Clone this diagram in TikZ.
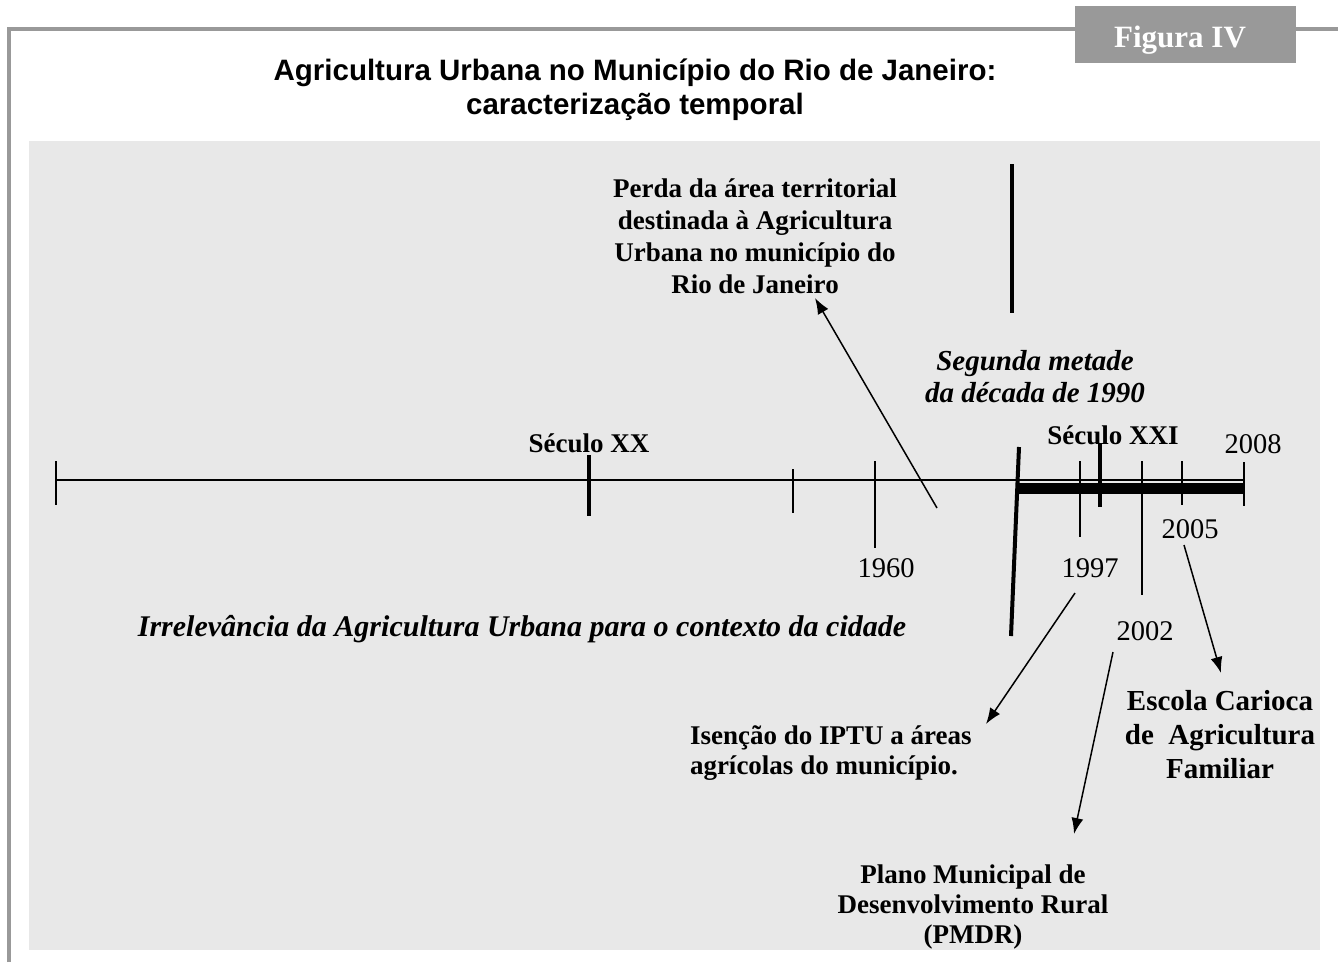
\documentclass[tikz,border=0pt]{standalone}
\usepackage{fontspec}
\setmainfont{Liberation Serif}
\newfontfamily\titlefont{Liberation Sans}
\usetikzlibrary{arrows.meta}
\definecolor{framegray}{HTML}{999999}
\definecolor{panelgray}{HTML}{E8E8E8}
\tikzset{
  txt/.style={inner sep=0pt, outer sep=0pt, align=center, font=\fontsize{27}{32}\selectfont\bfseries},
  txtit/.style={txt, font=\fontsize{29}{32}\selectfont\bfseries\itshape},
  year/.style={inner sep=0pt, outer sep=0pt, font=\fontsize{28.5}{32}\selectfont},
  thin/.style={line width=1.8pt},
  thick tick/.style={line width=3.6pt},
  ptr/.style={line width=1.5pt, -{Latex[length=16pt,width=12pt]}},
}
\begin{document}
\begin{tikzpicture}[x=1pt,y=-1pt]
\useasboundingbox (0,0) rectangle (1338,962);
\fill[white] (0,0) rectangle (1338,962);
% frame
\draw[framegray, line width=3.5pt] (9,962) -- (9,29) -- (1075,29);
\draw[framegray, line width=3.5pt] (1296,29) -- (1338,29);
\fill[framegray] (1075,6) rectangle (1296,63);
\node[inner sep=0pt, anchor=base, text=white, font=\fontsize{31}{34}\selectfont\bfseries] (fig) at (1180,47) {Figura IV};
% title
\node[inner sep=0pt, anchor=north, align=center, font=\titlefont\fontsize{29.5}{34}\selectfont\bfseries] (title) at (635,59)
  {Agricultura Urbana no Município do Rio de Janeiro:\\caracterização temporal};
% panel
\fill[panelgray] (29,141) rectangle (1320,950);

% timeline
\coordinate (t0) at (56,480);
\coordinate (t1) at (1244,480);
\draw[thin] (t0) -- (t1);
\fill[black] (1017,483) rectangle (1244,494);
\draw[thin] (56,461) -- (56,505);
\draw[thick tick] (589,455) -- (589,516);
\draw[thin] (793,469) -- (793,513);
\draw[thin] (875,461) -- (875,548);
\draw[thin] (1080,461) -- (1080,537);
\draw[thick tick] (1100,443) -- (1100,507);
\draw[thin] (1142,461) -- (1142,595);
\draw[thin] (1182,461) -- (1182,505);
\draw[thin] (1244,462) -- (1244,506);
\draw[line width=4pt] (1019,447) -- (1011,636);
\draw[line width=4pt] (1012,164) -- (1012,313);

% labels
\node[txt, anchor=base] (sxx) at (589,452) {Século XX};
\node[txt, anchor=base] (sxxi) at (1113,444) {Século XXI};
\node[year, anchor=base] (y1960) at (886,577) {1960};
\node[year, anchor=base] (y1997) at (1090,577) {1997};
\node[year, anchor=base] (y2002) at (1145,640) {2002};
\node[year, anchor=base] (y2005) at (1190,538) {2005};
\node[year, anchor=base] (y2008) at (1253,453) {2008};

\node[txt, anchor=north] (perda) at (755,179)
  {Perda da área territorial\\destinada à Agricultura\\Urbana no município do\\Rio de Janeiro};
\node[txtit, anchor=north] (segunda) at (1035,350)
  {Segunda metade\\da década de 1990};
\node[txtit, anchor=base, font=\fontsize{30}{32}\selectfont\bfseries\itshape] (irrel) at (522,636)
  {Irrelevância da Agricultura Urbana para o contexto da cidade};
\node[txt, anchor=north west, align=left, font=\fontsize{27}{30}\selectfont\bfseries] (isencao) at (690,726)
  {Isenção do IPTU a áreas\\agrícolas do município.};
\node[txt, anchor=north, font=\fontsize{29}{34}\selectfont\bfseries] (escola) at (1220,690)
  {Escola Carioca\\de\ \ Agricultura\\Familiar};
\node[txt, anchor=north, font=\fontsize{27}{30}\selectfont\bfseries] (plano) at (973,865)
  {Plano Municipal de\\Desenvolvimento Rural\\(PMDR)};

% arrows
\coordinate (aPerdaS) at (937,508);
\coordinate (aPerdaT) at (815,298);
\coordinate (a97S) at (1075,593);
\coordinate (a97T) at (986,724);
\coordinate (a02S) at (1113,652);
\coordinate (a02T) at (1074,834);
\coordinate (a05S) at (1184,545);
\coordinate (a05T) at (1221,673);
\draw[ptr] (aPerdaS) -- (aPerdaT);
\draw[ptr] (a97S) -- (a97T);
\draw[ptr] (a02S) -- (a02T);
\draw[ptr] (a05S) -- (a05T);
\end{tikzpicture}
\end{document}
